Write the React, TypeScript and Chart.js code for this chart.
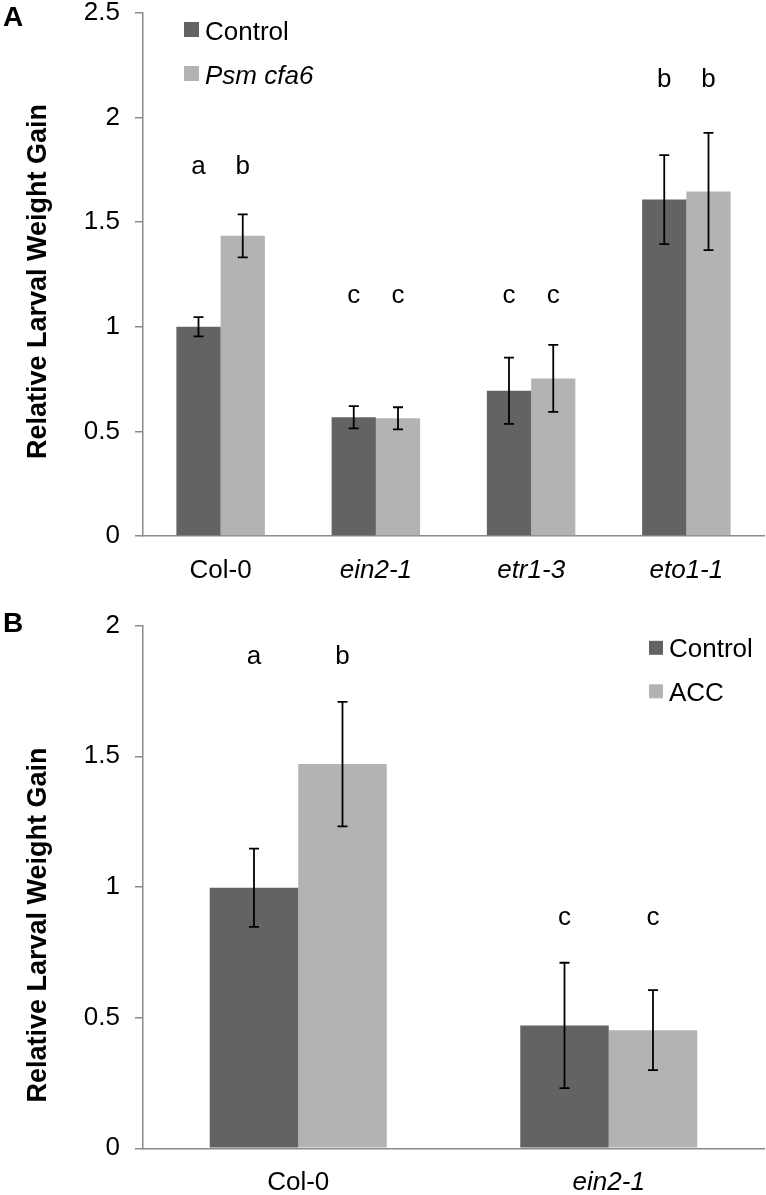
import React, { useEffect, useRef } from 'react';
import { Chart, registerables } from 'chart.js';

Chart.register(...registerables);

const FONT = '"Liberation Sans", Arial, Helvetica, sans-serif';
const AXIS = '#8a8a8a';
const DARK = '#636363';
const LIGHT = '#b3b3b3';

// ---------- Panel A data ----------
const categoriesA = ['Col-0', 'ein2-1', 'etr1-3', 'eto1-1'];
const seriesNamesA = ['Control', 'Psm cfa6'];
const controlA = [1.0, 0.567, 0.694, 1.607];
const controlErrA = [0.046, 0.053, 0.158, 0.213];
const cfa6A = [1.434, 0.562, 0.753, 1.646];
const cfa6ErrA = [0.103, 0.053, 0.16, 0.28];
const lettersControlA = ['a', 'c', 'c', 'b'];
const lettersCfa6A = ['b', 'c', 'c', 'b'];
const letterLevelA = [1.728, 1.111, 1.111, 2.144];
const yTicksA = [0, 0.5, 1, 1.5, 2, 2.5];

// ---------- Panel B data ----------
const categoriesB = ['Col-0', 'ein2-1'];
const seriesNamesB = ['Control', 'ACC'];
const controlB = [0.997, 0.47];
const controlErrB = [0.15, 0.24];
const accB = [1.47, 0.452];
const accErrB = [0.238, 0.153];
const lettersControlB = ['a', 'c'];
const lettersAccB = ['b', 'c'];
const letterLevelB = [1.853, 0.856];
const yTicksB = [0, 0.5, 1, 1.5, 2];

const Y_TITLE = 'Relative Larval Weight Gain';

type Series = { label: string; data: number[]; err: number[]; letters: string[]; color: string; italic: boolean };
type Spec = {
  panel: string;
  categories: string[];
  series: Series[];
  letterLevel: number[];
  yTicks: number[];
  canvasHeight: number;
  padTop: number;
  xHeight: number;
  legend: { boxX: number; textX: number; baseline0: number; gap: number; box: number };
  panelLabelBaseline: number;
  titleCenterY: number;
};

const specA: Spec = {
  panel: 'A',
  categories: categoriesA,
  series: [
    { label: seriesNamesA[0], data: controlA, err: controlErrA, letters: lettersControlA, color: DARK, italic: false },
    { label: seriesNamesA[1], data: cfa6A, err: cfa6ErrA, letters: lettersCfa6A, color: LIGHT, italic: true },
  ],
  letterLevel: letterLevelA,
  yTicks: yTicksA,
  canvasHeight: 620,
  padTop: 32.7,
  xHeight: 64,
  legend: { boxX: 184, textX: 205, baseline0: 59.5, gap: 44, box: 15 },
  panelLabelBaseline: 46,
  titleCenterY: 301.5,
};

const specB: Spec = {
  panel: 'B',
  categories: categoriesB,
  series: [
    { label: seriesNamesB[0], data: controlB, err: controlErrB, letters: lettersControlB, color: DARK, italic: false },
    { label: seriesNamesB[1], data: accB, err: accErrB, letters: lettersAccB, color: LIGHT, italic: false },
  ],
  letterLevel: letterLevelB,
  yTicks: yTicksB,
  canvasHeight: 600,
  padTop: 30,
  xHeight: 46.7,
  legend: { boxX: 649, textX: 669, baseline0: 62.3, gap: 43.5, box: 14 },
  panelLabelBaseline: 37,
  titleCenterY: 330,
};

function overlayPlugin(spec: Spec) {
  return {
    id: 'overlay' + spec.panel,
    afterDatasetsDraw(chart: any) {
      const ctx = chart.ctx as CanvasRenderingContext2D;
      const y = chart.scales.y;
      ctx.save();
      spec.series.forEach((s, di) => {
        const meta = chart.getDatasetMeta(di);
        meta.data.forEach((bar: any, i: number) => {
          const x = bar.x;
          const top = y.getPixelForValue(s.data[i] + s.err[i]);
          const bot = y.getPixelForValue(s.data[i] - s.err[i]);
          ctx.strokeStyle = '#000';
          ctx.lineWidth = 1.8;
          ctx.beginPath();
          ctx.moveTo(x, top);
          ctx.lineTo(x, bot);
          ctx.moveTo(x - 5, top);
          ctx.lineTo(x + 5, top);
          ctx.moveTo(x - 5, bot);
          ctx.lineTo(x + 5, bot);
          ctx.stroke();
          ctx.fillStyle = '#000';
          ctx.font = `26px ${FONT}`;
          ctx.textAlign = 'center';
          ctx.textBaseline = 'alphabetic';
          ctx.fillText(s.letters[i], x, y.getPixelForValue(spec.letterLevel[i]));
        });
      });
      // legend
      const L = spec.legend;
      spec.series.forEach((s, di) => {
        const base = L.baseline0 + di * L.gap;
        ctx.fillStyle = s.color;
        ctx.fillRect(L.boxX, base - 2.5 - L.box, L.box, L.box);
        ctx.fillStyle = '#000';
        ctx.font = `${s.italic ? 'italic ' : ''}26px ${FONT}`;
        ctx.textAlign = 'left';
        ctx.textBaseline = 'alphabetic';
        ctx.fillText(s.label, L.textX, base);
      });
      // panel label
      ctx.font = `bold 28px ${FONT}`;
      ctx.textAlign = 'left';
      ctx.textBaseline = 'alphabetic';
      ctx.fillText(spec.panel, 3, spec.panelLabelBaseline);
      // y title
      ctx.translate(38.5, spec.titleCenterY);
      ctx.rotate(-Math.PI / 2);
      ctx.font = `bold 27px ${FONT}`;
      ctx.textAlign = 'center';
      ctx.textBaseline = 'middle';
      ctx.fillText(Y_TITLE, 0, 0);
      ctx.restore();
    },
  };
}

function PanelChart({ spec, top }: { spec: Spec; top: number }) {
  const ref = useRef<HTMLCanvasElement | null>(null);
  useEffect(() => {
    if (!ref.current) return;
    const chart = new Chart(ref.current, {
      type: 'bar',
      data: {
        labels: spec.categories,
        datasets: spec.series.map((s) => ({
          label: s.label,
          data: s.data,
          backgroundColor: s.color,
          borderWidth: 0,
          barPercentage: 1,
          categoryPercentage: 0.57,
        })),
      },
      options: {
        responsive: false,
        animation: false,
        devicePixelRatio: 1,
        layout: { padding: { top: spec.padTop, right: 2, left: 0, bottom: 0 } },
        plugins: { legend: { display: false }, tooltip: { enabled: false } },
        scales: {
          x: {
            type: 'category',
            grid: { display: false, drawTicks: false },
            border: { display: true, color: AXIS, width: 1.5 },
            ticks: {
              padding: 19,
              color: '#000',
              font: (c: any) => ({ family: FONT, size: 26, style: c.index === 0 ? 'normal' : 'italic' }),
            },
            afterFit: (s: any) => {
              s.height = spec.xHeight;
            },
          },
          y: {
            min: 0,
            max: spec.yTicks[spec.yTicks.length - 1],
            grid: { drawOnChartArea: false, drawTicks: true, tickLength: 8, color: AXIS, lineWidth: 1.5 },
            border: { display: true, color: AXIS, width: 1.5 },
            ticks: {
              padding: 15,
              color: '#000',
              font: { family: FONT, size: 26 },
              callback: (v: any) => String(v),
            },
            afterBuildTicks: (s: any) => {
              s.ticks = spec.yTicks.map((v) => ({ value: v }));
            },
            afterFit: (s: any) => {
              s.width = 143;
            },
          },
        },
      },
      plugins: [overlayPlugin(spec)],
    } as any);
    return () => chart.destroy();
  }, [spec]);
  return (
    <canvas
      ref={ref}
      width={766}
      height={spec.canvasHeight}
      style={{ position: 'absolute', left: 0, top, width: 766, height: spec.canvasHeight, display: 'block' }}
    />
  );
}

export default function App() {
  useEffect(() => {
    document.body.style.margin = '0';
  }, []);
  return (
    <div style={{ position: 'absolute', left: 0, top: 0, width: 766, height: 1195, overflow: 'hidden', background: '#fff' }}>
      <PanelChart spec={specA} top={-20} />
      <PanelChart spec={specB} top={595} />
    </div>
  );
}
